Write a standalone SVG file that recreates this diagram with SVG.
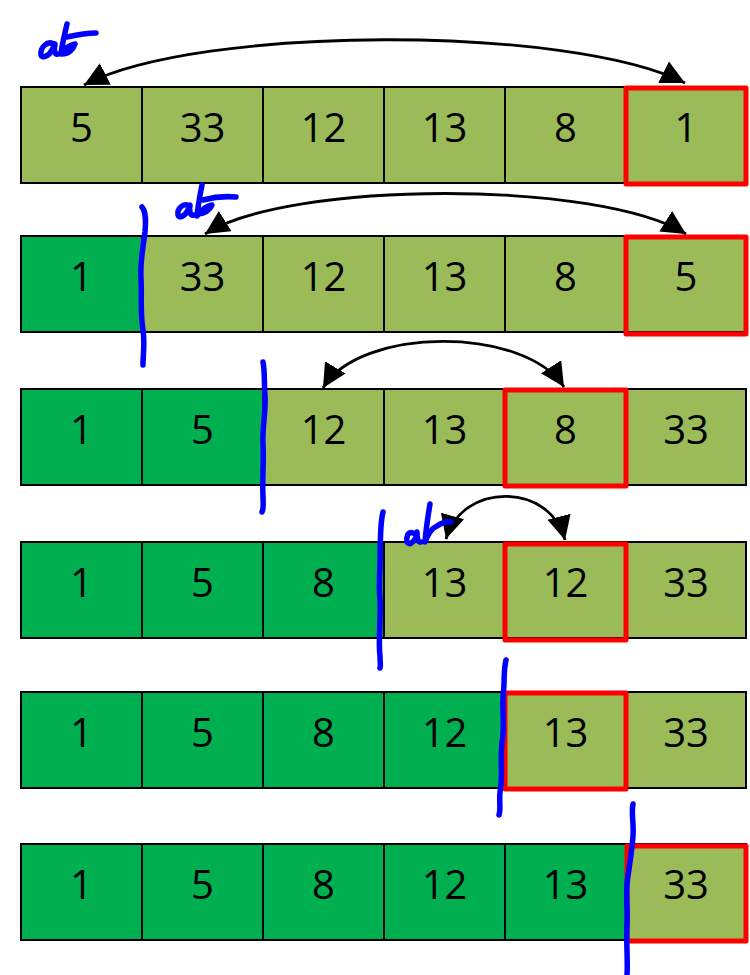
<svg xmlns="http://www.w3.org/2000/svg" width="750" height="975" viewBox="0 0 750 975">
<style>
.c rect{stroke:#000;stroke-width:2}
.l{fill:#9BBB59}
.d{fill:#00B050}
.t{font-family:"Open Sans","Noto Sans",sans-serif;font-size:40px;fill:#000;text-anchor:middle}
.sel{fill:none;stroke:#FF0000;stroke-width:5;stroke-linejoin:round}
.arr{fill:none;stroke:#000;stroke-width:2.8;marker-start:url(#ah);marker-end:url(#ah)}
.ink{fill:none;stroke:#0000FF;stroke-width:5.5;stroke-linecap:round;stroke-linejoin:round}
</style>
<defs>
<marker id="ah" markerUnits="userSpaceOnUse" markerWidth="26" markerHeight="26" refX="24" refY="12" orient="auto-start-reverse" viewBox="0 0 26 26">
<path d="M0,0 L24,12 L0,24 z" fill="#000"/>
</marker>
</defs>
<rect width="750" height="975" fill="#fff"/>

<!-- Row 1 -->
<g id="row1" class="c">
<g id="r1c1"><rect x="21" y="87" width="121" height="96" class="l"/><text class="t" x="81.5" y="141.5">5</text></g>
<g id="r1c2"><rect x="142" y="87" width="121" height="96" class="l"/><text class="t" x="202.5" y="141.5">33</text></g>
<g id="r1c3"><rect x="263" y="87" width="121" height="96" class="l"/><text class="t" x="323.5" y="141.5">12</text></g>
<g id="r1c4"><rect x="384" y="87" width="121" height="96" class="l"/><text class="t" x="444.5" y="141.5">13</text></g>
<g id="r1c5"><rect x="505" y="87" width="121" height="96" class="l"/><text class="t" x="565.5" y="141.5">8</text></g>
<g id="r1c6"><rect x="626" y="87" width="120" height="96" class="l"/><text class="t" x="686" y="141.5">1</text></g>
</g>
<!-- Row 2 -->
<g id="row2" class="c">
<g id="r2c1"><rect x="21" y="236" width="121" height="96" class="d"/><text class="t" x="81.5" y="290.5">1</text></g>
<g id="r2c2"><rect x="142" y="236" width="121" height="96" class="l"/><text class="t" x="202.5" y="290.5">33</text></g>
<g id="r2c3"><rect x="263" y="236" width="121" height="96" class="l"/><text class="t" x="323.5" y="290.5">12</text></g>
<g id="r2c4"><rect x="384" y="236" width="121" height="96" class="l"/><text class="t" x="444.5" y="290.5">13</text></g>
<g id="r2c5"><rect x="505" y="236" width="121" height="96" class="l"/><text class="t" x="565.5" y="290.5">8</text></g>
<g id="r2c6"><rect x="626" y="236" width="120" height="96" class="l"/><text class="t" x="686" y="290.5">5</text></g>
</g>
<!-- Row 3 -->
<g id="row3" class="c">
<g id="r3c1"><rect x="21" y="389" width="121" height="96" class="d"/><text class="t" x="81.5" y="443.5">1</text></g>
<g id="r3c2"><rect x="142" y="389" width="121" height="96" class="d"/><text class="t" x="202.5" y="443.5">5</text></g>
<g id="r3c3"><rect x="263" y="389" width="121" height="96" class="l"/><text class="t" x="323.5" y="443.5">12</text></g>
<g id="r3c4"><rect x="384" y="389" width="121" height="96" class="l"/><text class="t" x="444.5" y="443.5">13</text></g>
<g id="r3c5"><rect x="505" y="389" width="121" height="96" class="l"/><text class="t" x="565.5" y="443.5">8</text></g>
<g id="r3c6"><rect x="626" y="389" width="120" height="96" class="l"/><text class="t" x="686" y="443.5">33</text></g>
</g>
<!-- Row 4 -->
<g id="row4" class="c">
<g id="r4c1"><rect x="21" y="542" width="121" height="96" class="d"/><text class="t" x="81.5" y="596.5">1</text></g>
<g id="r4c2"><rect x="142" y="542" width="121" height="96" class="d"/><text class="t" x="202.5" y="596.5">5</text></g>
<g id="r4c3"><rect x="263" y="542" width="121" height="96" class="d"/><text class="t" x="323.5" y="596.5">8</text></g>
<g id="r4c4"><rect x="384" y="542" width="121" height="96" class="l"/><text class="t" x="444.5" y="596.5">13</text></g>
<g id="r4c5"><rect x="505" y="542" width="121" height="96" class="l"/><text class="t" x="565.5" y="596.5">12</text></g>
<g id="r4c6"><rect x="626" y="542" width="120" height="96" class="l"/><text class="t" x="686" y="596.5">33</text></g>
</g>
<!-- Row 5 -->
<g id="row5" class="c">
<g id="r5c1"><rect x="21" y="692" width="121" height="96" class="d"/><text class="t" x="81.5" y="746.5">1</text></g>
<g id="r5c2"><rect x="142" y="692" width="121" height="96" class="d"/><text class="t" x="202.5" y="746.5">5</text></g>
<g id="r5c3"><rect x="263" y="692" width="121" height="96" class="d"/><text class="t" x="323.5" y="746.5">8</text></g>
<g id="r5c4"><rect x="384" y="692" width="121" height="96" class="d"/><text class="t" x="444.5" y="746.5">12</text></g>
<g id="r5c5"><rect x="505" y="692" width="121" height="96" class="l"/><text class="t" x="565.5" y="746.5">13</text></g>
<g id="r5c6"><rect x="626" y="692" width="120" height="96" class="l"/><text class="t" x="686" y="746.5">33</text></g>
</g>
<!-- Row 6 -->
<g id="row6" class="c">
<g id="r6c1"><rect x="21" y="844" width="121" height="96" class="d"/><text class="t" x="81.5" y="898.5">1</text></g>
<g id="r6c2"><rect x="142" y="844" width="121" height="96" class="d"/><text class="t" x="202.5" y="898.5">5</text></g>
<g id="r6c3"><rect x="263" y="844" width="121" height="96" class="d"/><text class="t" x="323.5" y="898.5">8</text></g>
<g id="r6c4"><rect x="384" y="844" width="121" height="96" class="d"/><text class="t" x="444.5" y="898.5">12</text></g>
<g id="r6c5"><rect x="505" y="844" width="121" height="96" class="d"/><text class="t" x="565.5" y="898.5">13</text></g>
<g id="r6c6"><rect x="626" y="844" width="120" height="96" class="l"/><text class="t" x="686" y="898.5">33</text></g>
</g>

<!-- Selected (minimum) boxes -->
<g id="selections">
<rect class="sel" x="626" y="88" width="120" height="96"/>
<rect class="sel" x="626" y="237" width="120" height="97"/>
<rect class="sel" x="505" y="390" width="121" height="96"/>
<rect class="sel" x="505" y="544" width="121" height="96"/>
<rect class="sel" x="505" y="693" width="121" height="96"/>
<rect class="sel" x="627" y="846" width="119" height="95"/>
</g>

<!-- Swap connectors -->
<g id="connectors">
<path class="arr" d="M84,85 C200,25 570,25 685,83"/>
<path class="arr" d="M205,234 C290,180 600,180 686,234"/>
<path class="arr" d="M323,388 C360,326 525,326 564,387"/>
<path class="arr" d="M446,539 C462,482 550,482 565,540"/>
</g>

<!-- Blue ink annotations -->
<g id="ink">
<path class="ink" d="M54,44 C47,40 40,48 41,55 C42,59 49,56 52,50 L55,44 C54,50 54,55 58,54"/>
<path class="ink" d="M67,24 C65,33 62,44 61,54 C65,48 70,45 75,44 C73,50 68,54 62,54 M67,37 C76,35 88,33 96,33"/>
<path class="ink" d="M190,206 C183,202 177,209 178,215 C179,219 185,216 188,210 L190,205 C189,211 190,216 194,215"/>
<path class="ink" d="M202,185 C200,195 198,205 197,216 C201,210 207,206 212,205 C210,210 204,214 198,214 M203,200 C214,197 225,196 236,197"/>
<path class="ink" d="M413,533 C408,531 406,537 407,542 C409,546 414,542 416,537 L417,532 C417,538 418,543 421,542"/>
<path class="ink" d="M430,504 C428,516 426,528 425,542 C428,534 432,528 437,526 C441,523 447,521 451,522"/>
<path class="ink" d="M142,207 C146,212 146,220 145,232 C143,248 140,262 141,278 C142,296 140,312 143,330 C145,342 143,355 143,365"/>
<path class="ink" d="M263,362 C265,372 264,384 265,396 C266,412 262,428 263,444 C264,462 262,480 263,496 C263,504 264,508 262,512"/>
<path class="ink" d="M383,512 C380,524 381,536 380,548 C381,566 378,582 380,600 C381,620 378,640 380,656 C380,662 381,666 380,668"/>
<path class="ink" d="M506,660 C503,672 505,684 503,696 C502,712 505,726 502,742 C500,760 503,776 500,792 C499,802 501,810 499,815"/>
<path class="ink" d="M633,804 C631,812 634,824 633,836 C632,850 630,862 628,876 C625,892 628,908 627,924 C626,944 628,960 627,975"/>
</g>
</svg>
